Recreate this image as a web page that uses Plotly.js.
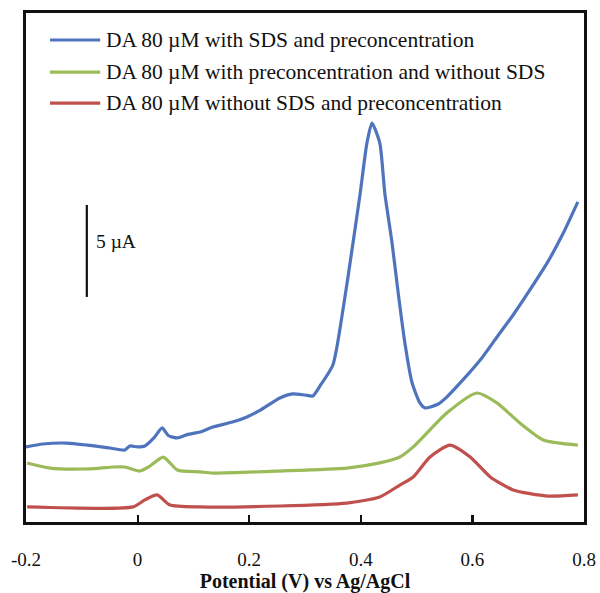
<!DOCTYPE html>
<html>
<head>
<meta charset="utf-8">
<script src="https://cdn.plot.ly/plotly-3.0.1.min.js"></script>
<style>
  html, body { margin: 0; padding: 0; background: #fff; }
  #chart { width: 600px; height: 593px; }
</style>
</head>
<body>
<div id="chart"></div>
<script>
// Differential pulse voltammograms of dopamine (current in µA vs potential in V)
const seriesNames = [
  "DA 80 \u00b5M with SDS and preconcentration",
  "DA 80 \u00b5M with preconcentration and without SDS",
  "DA 80 \u00b5M without SDS and preconcentration"
];
const seriesColors = ["#4f74bd", "#9bbb59", "#c0504d"];

const potentialSDS = [-0.2, -0.17, -0.127, -0.09, -0.05, -0.023, -0.014, 0.0, 0.013, 0.03, 0.044, 0.055, 0.071, 0.09, 0.112, 0.135, 0.17, 0.196, 0.22, 0.255, 0.278, 0.30, 0.314, 0.327, 0.35, 0.368, 0.386, 0.399, 0.411, 0.42, 0.434, 0.443, 0.456, 0.467, 0.479, 0.492, 0.506, 0.515, 0.538, 0.554, 0.583, 0.614, 0.644, 0.673, 0.703, 0.734, 0.762, 0.789];
const currentSDS   = [4.08, 4.24, 4.29, 4.18, 4.02, 3.91, 4.13, 4.08, 4.13, 4.6, 5.11, 4.7, 4.57, 4.76, 4.89, 5.16, 5.43, 5.71, 6.08, 6.74, 6.96, 6.9, 6.85, 7.4, 8.53, 11.52, 15.16, 17.88, 20.6, 21.68, 20.6, 17.88, 15.16, 12.45, 9.73, 7.55, 6.47, 6.2, 6.4, 6.79, 7.72, 8.8, 10.05, 11.25, 12.61, 14.08, 15.65, 17.4];

const potentialPre = [-0.198, -0.157, -0.098, -0.067, -0.044, -0.023, 0.004, 0.022, 0.046, 0.071, 0.112, 0.135, 0.255, 0.375, 0.434, 0.47, 0.494, 0.554, 0.608, 0.644, 0.685, 0.727, 0.789];
const currentPre   = [3.21, 2.93, 2.88, 2.93, 2.99, 2.99, 2.77, 3.04, 3.53, 2.83, 2.72, 2.66, 2.77, 2.93, 3.21, 3.53, 4.08, 5.92, 7.01, 6.47, 5.38, 4.46, 4.18];

const potentialBare = [-0.198, -0.008, 0.013, 0.035, 0.058, 0.112, 0.255, 0.375, 0.434, 0.47, 0.494, 0.524, 0.56, 0.596, 0.632, 0.673, 0.734, 0.789];
const currentBare   = [0.82, 0.82, 1.2, 1.47, 0.92, 0.82, 0.87, 1.03, 1.36, 2.01, 2.45, 3.53, 4.18, 3.53, 2.45, 1.74, 1.41, 1.47];

const xTicks = [-0.2, 0, 0.2, 0.4, 0.6, 0.8];
const xTickText = ["-0.2", "0", "0.2", "0.4", "0.6", "0.8"];
const scaleBarCurrent = 5;   // µA
const scaleBarBase = 12.23;  // µA, bottom of the scale bar
const scaleBarPotential = -0.091;

const xs = [potentialSDS, potentialPre, potentialBare];
const ys = [currentSDS, currentPre, currentBare];

const traces = xs.map((x, i) => ({
  x: x, y: ys[i], type: "scatter", mode: "lines", name: seriesNames[i],
  line: { color: seriesColors[i], width: 3.2, shape: "spline", smoothing: 0.6 },
  showlegend: false, hoverinfo: "skip"
}));

const serif = "'Liberation Serif', 'Times New Roman', serif";
const legendRowsY = [0.947, 0.884, 0.823];

const shapes = [];
const annotations = [];
seriesNames.forEach((name, i) => {
  shapes.push({ type: "line", xref: "paper", yref: "paper",
    x0: 0.043, x1: 0.133, y0: legendRowsY[i], y1: legendRowsY[i],
    line: { color: seriesColors[i], width: 3.2 } });
  annotations.push({ xref: "paper", yref: "paper", x: 0.139, y: legendRowsY[i],
    xanchor: "left", yanchor: "middle", showarrow: false, text: name,
    font: { family: serif, size: 21.5, color: "#111" } });
});

// 5 µA scale bar
shapes.push({ type: "line", xref: "x", yref: "y",
  x0: scaleBarPotential, x1: scaleBarPotential,
  y0: scaleBarBase, y1: scaleBarBase + scaleBarCurrent,
  line: { color: "#111", width: 2.2 } });
annotations.push({ xref: "x", yref: "y", x: scaleBarPotential + 0.012,
  y: scaleBarBase + scaleBarCurrent * 0.6, xanchor: "left", yanchor: "middle",
  showarrow: false, text: scaleBarCurrent + " \u00b5A",
  font: { family: serif, size: 19.5, color: "#111" } });

const layout = {
  width: 600, height: 593,
  margin: { l: 26, r: 16, t: 13, b: 71, pad: 0, autoexpand: false },
  paper_bgcolor: "#fff", plot_bgcolor: "#fff",
  showlegend: false,
  xaxis: {
    range: [-0.2, 0.8], tickvals: xTicks, ticktext: xTickText,
    ticks: "inside", ticklen: 7, tickwidth: 2.2, tickcolor: "#111",
    showline: true, linecolor: "#111", linewidth: 2.8, mirror: true,
    showgrid: false, zeroline: false, ticklabelstandoff: 18,
    automargin: true,
    tickfont: { family: serif, size: 19, color: "#111" },
    title: { text: "Potential (V) vs Ag/AgCl", standoff: 6,
      font: { family: serif, size: 20, color: "#111", weight: "bold" } }
  },
  yaxis: {
    range: [0, 27.66], showticklabels: false, ticks: "",
    showline: true, linecolor: "#111", linewidth: 2.8, mirror: true,
    showgrid: false, zeroline: false
  },
  shapes: shapes,
  annotations: annotations
};

Plotly.newPlot("chart", traces, layout, { displayModeBar: false, staticPlot: true });
</script>
</body>
</html>
